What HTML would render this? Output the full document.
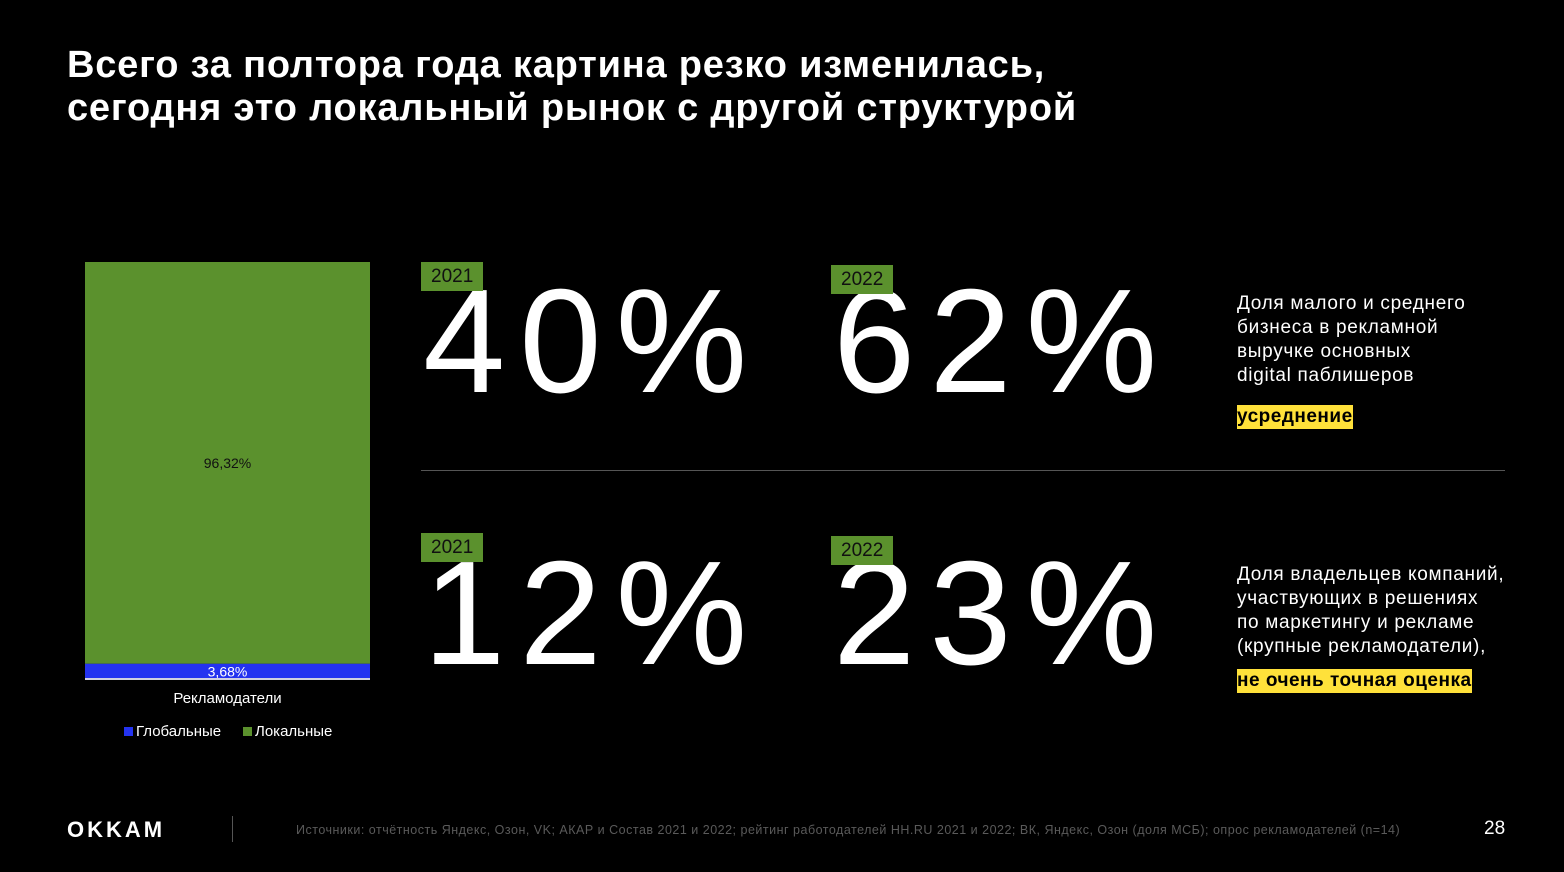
<!DOCTYPE html>
<html><head><meta charset="utf-8"><style>
body{margin:0;background:#000;width:1564px;height:872px;overflow:hidden;position:relative;font-family:"Liberation Sans",sans-serif;color:#fff}
.a{position:absolute}
.title{left:67px;top:44px;font-size:38px;font-weight:bold;line-height:43px;letter-spacing:0.8px}
.big{font-size:148px;line-height:1;letter-spacing:14px}
.tag{background:#5b912d;color:#111;font-size:19px;padding:4px 10px 3px 10px;line-height:22px}
.desc{font-size:19px;line-height:24px;left:1237px;letter-spacing:0.7px}
.hl{background:#ffe13a;color:#000;font-weight:bold;font-size:19px;line-height:24px;letter-spacing:0.5px}
</style></head><body>
<div class="a title">Всего за полтора года картина резко изменилась,<br>сегодня это локальный рынок с другой структурой</div>

<svg class="a" style="left:0;top:0" width="460" height="760" id="chart"></svg>
<script>
const categories=["Рекламодатели"];
const seriesNames=["Глобальные","Локальные"];
const globalVals=[3.68];
const localVals=[96.32];
const valueLabels=[["3,68%"],["96,32%"]];
const svg=document.getElementById('chart');
const NS="http://www.w3.org/2000/svg";
const y0=679,plotH=417,x0=85,barW=285;
function yScale(v){return plotH*v/100;}
function mk(t,a){const e=document.createElementNS(NS,t);for(const k in a)e.setAttribute(k,a[k]);svg.appendChild(e);return e;}
categories.forEach((c,i)=>{
  const hg=yScale(globalVals[i]),hl=yScale(localVals[i]);
  const r1=mk('rect',{x:x0,y:y0-hg,width:barW,height:hg,fill:'#2433f0'});
  
  
  const r2=mk('rect',{x:x0,y:y0-hg-hl,width:barW,height:hl,fill:'#5b912d'});
  
  
  const t1=mk('text',{x:x0+barW/2,y:y0-hg/2+5,'text-anchor':'middle','font-size':14,fill:'#fff','font-family':'Liberation Sans'});
  t1.textContent=valueLabels[0][i];
  
  
  const t2=mk('text',{x:x0+barW/2,y:y0-hg-hl/2+5,'text-anchor':'middle','font-size':14,fill:'#111','font-family':'Liberation Sans'});
  t2.textContent=valueLabels[1][i];
  
  
  const cl=mk('text',{x:x0+barW/2,y:703,'text-anchor':'middle','font-size':15,fill:'#fff','font-family':'Liberation Sans'});
  cl.textContent=c;
  
  
});
const ax=mk('line',{x1:x0,x2:x0+barW,y1:y0,y2:y0,stroke:'#d0d0e0','stroke-width':2});


const lg=[[124,seriesNames[0],'#2433f0'],[243,seriesNames[1],'#5b912d']];
lg.forEach(l=>{
  const r=mk('rect',{x:l[0],y:727,width:9,height:9,fill:l[2]});
  
  
  const t=mk('text',{x:l[0]+12,y:736,'font-size':15,fill:'#fff','font-family':'Liberation Sans'});
  t.textContent=l[1];
  
  
});
</script>

<div class="a big" style="left:423px;top:268px">40%</div>
<div class="a big" style="left:833px;top:268px">62%</div>
<div class="a big" style="left:423px;top:540px">12%</div>
<div class="a big" style="left:833px;top:540px">23%</div>
<div class="a tag" style="left:421px;top:262px">2021</div>
<div class="a tag" style="left:831px;top:265px">2022</div>
<div class="a tag" style="left:421px;top:533px">2021</div>
<div class="a tag" style="left:831px;top:536px">2022</div>

<div class="a" style="left:421px;top:470px;width:1084px;height:1px;background:#555"></div>

<div class="a desc" style="top:292px">Доля малого и среднего<br>бизнеса в рекламной<br>выручке основных<br>digital паблишеров</div>
<div class="a hl" style="left:1237px;top:405px">усреднение</div>
<div class="a desc" style="top:563px">Доля владельцев компаний,<br>участвующих в решениях<br>по маркетингу и рекламе<br>(крупные рекламодатели),</div>
<div class="a hl" style="left:1237px;top:669px">не очень точная оценка</div>

<div class="a" style="left:67px;top:817px;font-size:22px;font-weight:900;letter-spacing:3px">OKKAM</div>
<div class="a" style="left:232px;top:816px;width:1px;height:26px;background:#555"></div>
<div class="a" style="left:296px;top:823px;font-size:12.5px;color:#5a5a5a;letter-spacing:0.5px;white-space:nowrap">Источники: отчётность Яндекс, Озон, VK; АКАР и Состав 2021 и 2022; рейтинг работодателей HH.RU 2021 и 2022; ВК, Яндекс, Озон (доля МСБ); опрос рекламодателей (n=14)</div>
<div class="a" style="left:1484px;top:818px;font-size:19px">28</div>
</body></html>
